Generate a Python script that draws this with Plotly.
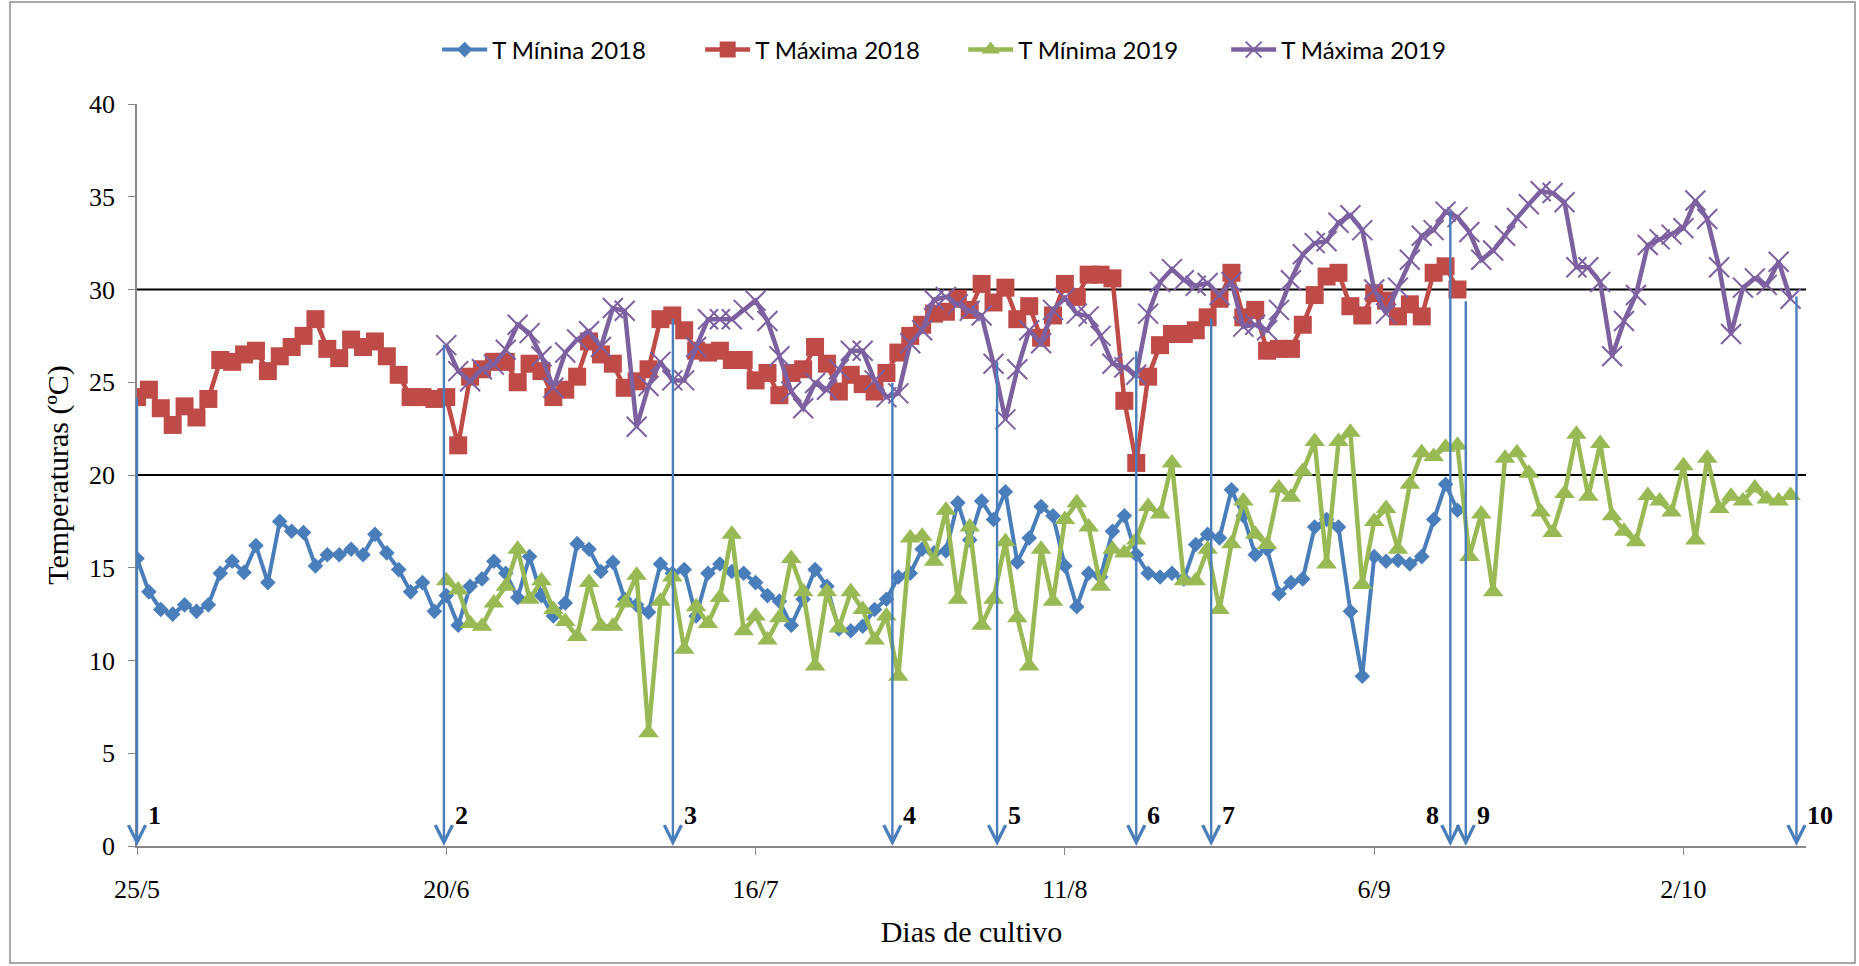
import plotly.graph_objects as go

# ---------------- data ----------------
tick_dias = [0, 26, 52, 78, 104, 130]
tick_labels = ["25/5", "20/6", "16/7", "11/8", "6/9", "2/10"]

dias_2018 = list(range(0, 112))
dias_2019 = list(range(26, 140))

tmin_2018 = [15.5, 13.7, 12.75, 12.5, 13.0, 12.65, 13.0, 14.7, 15.35, 14.75,
             16.2, 14.2, 17.5, 16.97, 16.9, 15.1, 15.7, 15.7, 16.0, 15.7,
             16.8, 15.8, 14.9, 13.7, 14.2, 12.65, 13.5, 11.9, 14.0, 14.4,
             15.35, 14.7, 13.4, 15.6, 13.5, 12.4, 13.1, 16.3, 16.0, 14.8,
             15.3, 13.3, 13.0, 12.6, 15.2, 14.7, 14.9, 12.4, 14.7, 15.2,
             14.8, 14.7, 14.2, 13.5, 13.2, 11.9, 13.3, 14.9, 14.0, 11.7,
             11.6, 11.85, 12.75, 13.3, 14.5, 14.7, 16.0, 15.8, 15.9, 18.5,
             16.5, 18.6, 17.6, 19.1, 15.3, 16.6, 18.3, 17.8, 15.1, 12.9,
             14.7, 14.5, 16.97, 17.8, 15.7, 14.7, 14.5, 14.7, 14.4, 16.25,
             16.8, 16.6, 19.2, 17.8, 15.7, 16.0, 13.6, 14.2, 14.4, 17.2,
             17.6, 17.2, 12.65, 9.15, 15.6, 15.35, 15.4, 15.2, 15.6, 17.6,
             19.5, 18.1]

tmax_2018 = [24.2, 24.6, 23.6, 22.7, 23.7, 23.1, 24.1, 26.2, 26.1, 26.5,
             26.7, 25.6, 26.4, 26.9, 27.5, 28.4, 26.8, 26.3, 27.3, 26.9,
             27.2, 26.4, 25.4, 24.2, 24.2, 24.1, 24.2, 21.6, 25.3, 25.7,
             26.1, 26.1, 25.0, 26.0, 25.6, 24.2, 24.6, 25.3, 27.2, 26.5,
             26.0, 24.7, 25.05, 25.7, 28.4, 28.6, 27.8, 26.7, 26.6, 26.7,
             26.2, 26.2, 25.1, 25.5, 24.3, 25.5, 25.7, 26.9, 26.0, 24.5,
             25.4, 24.9, 24.5, 25.5, 26.6, 27.5, 28.1, 28.7, 28.8, 29.5,
             28.9, 30.3, 29.3, 30.1, 28.4, 29.1, 27.4, 28.6, 30.3, 29.6,
             30.8, 30.8, 30.6, 24.0, 20.65, 25.3, 27.0, 27.6, 27.6, 27.8,
             28.5, 29.5, 30.9, 28.5, 28.9, 26.7, 26.8, 26.8, 28.1, 29.7,
             30.7, 30.9, 29.1, 28.6, 29.8, 29.4, 28.55, 29.2, 28.55, 30.9,
             31.25, 30.0]

tmin_2019 = [14.3, 13.8, 12.0, 11.85, 13.1, 14.0, 16.0, 13.3, 14.3, 12.75,
             12.1, 11.3, 14.2, 11.85, 11.85, 13.1, 14.6, 6.1, 13.2, 14.5,
             10.6, 12.9, 12.0, 13.4, 16.8, 11.6, 12.4, 11.1, 12.3, 15.5,
             13.7, 9.7, 13.7, 11.75, 13.7, 12.75, 11.1, 12.4, 9.15, 16.6,
             16.7, 15.35, 18.1, 13.3, 17.2, 11.9, 13.3, 16.4, 12.3, 9.7,
             16.0, 13.2, 17.6, 18.5, 17.2, 14.0, 16.0, 15.8, 16.5, 18.3,
             17.9, 20.65, 14.3, 14.3, 16.0, 12.75, 16.3, 18.6, 16.8, 16.25,
             19.3, 18.8, 20.2, 21.8, 15.2, 21.8, 22.3, 14.1, 17.5, 18.2,
             16.0, 19.5, 21.2, 21.0, 21.5, 21.6, 15.6, 17.9, 13.7, 20.9,
             21.2, 20.1, 18.0, 16.9, 19.0, 22.2, 18.85, 21.7, 17.8, 16.97,
             16.4, 18.9, 18.6, 18.0, 20.5, 16.5, 20.9, 18.2, 18.85, 18.6,
             19.3, 18.7, 18.6, 18.9]

tmax_2019 = [27.0, 25.6, 25.05, 25.7, 25.95, 26.75, 28.1, 27.65, 26.4, 24.7,
             26.6, 27.3, 27.75, 26.9, 29.0, 28.85, 22.6, 24.8, 26.1, 25.1,
             25.1, 26.9, 28.4, 28.4, 28.4, 28.9, 29.4, 28.3, 26.4, 24.5,
             23.6, 24.96, 24.6, 25.7, 26.7, 26.7, 25.1, 24.2, 24.4, 27.1,
             27.8, 29.45, 29.6, 29.2, 28.85, 28.6, 26.0, 23.0, 25.7, 27.8,
             27.1, 28.9, 29.55, 28.7, 28.55, 27.5, 26.0, 25.8, 25.4, 28.7,
             30.4, 31.1, 30.5, 30.2, 30.35, 29.7, 30.4, 28.0, 28.1, 27.8,
             28.9, 30.5, 31.9, 32.5, 32.6, 33.6, 34.0, 33.2, 30.0, 28.7,
             30.1, 31.6, 32.9, 33.2, 34.2, 33.9, 33.1, 31.6, 32.1, 32.9,
             33.85, 34.6, 35.3, 35.2, 34.7, 31.2, 31.2, 30.4, 26.4, 28.3,
             29.7, 32.4, 32.7, 32.96, 33.3, 34.8, 33.8, 31.2, 27.6, 30.1,
             30.6, 30.25, 31.5, 29.5]

# growth-stage arrows
arrow_dias = [0, 25.8, 45.05, 63.5, 72.3, 84.0, 90.3, 110.4, 111.7, 139.5]
arrow_tops = [24.25, 27.1, 28.5, 25.05, 26.2, 26.75, 28.5, 34.3, 29.45, 29.7]
arrow_labels = ["1", "2", "3", "4", "5", "6", "7", "8", "9", "10"]
label_left = [False, False, False, False, False, False, False, True, False, False]

ref_lines = [20, 30]

# ---------------- style ----------------
BLUE = "#4A7EBB"
RED = "#BE4B48"
GREEN = "#98B954"
PURPLE = "#7D60A0"
SERIF = "Liberation Serif, Times New Roman, serif"
SANS = "Lato, Carlito, Calibri, sans-serif"

W, H = 1859, 966
ML, MR, MT, MB = 137, 53, 104, 120

fig = go.Figure()

fig.add_trace(go.Scatter(
    x=dias_2018, y=tmin_2018, mode="lines+markers", name="T Mínina 2018",
    line=dict(color=BLUE, width=4),
    marker=dict(symbol="diamond", size=12, color=BLUE)))
fig.add_trace(go.Scatter(
    x=dias_2018, y=tmax_2018, mode="lines+markers", name="T Máxima 2018",
    line=dict(color=RED, width=4.5),
    marker=dict(symbol="square", size=18, color=RED)))
fig.add_trace(go.Scatter(
    x=dias_2019, y=tmin_2019, mode="lines+markers", name="T Mínima 2019",
    line=dict(color=GREEN, width=4.5),
    marker=dict(symbol="triangle-up", size=18, color=GREEN)))
fig.add_trace(go.Scatter(
    x=dias_2019, y=tmax_2019, mode="lines+markers", name="T Máxima 2019",
    line=dict(color=PURPLE, width=4.5),
    marker=dict(symbol="x-thin", size=20, color=PURPLE,
                line=dict(color=PURPLE, width=2))))

shapes = []
for v in ref_lines:
    shapes.append(dict(type="line", xref="paper", yref="y", x0=0, x1=1,
                       y0=v, y1=v, line=dict(color="black", width=2),
                       layer="below"))

# outer chart border
pw = W - ML - MR
ph = H - MT - MB
shapes.append(dict(type="rect", xref="paper", yref="paper",
                   x0=(10 - ML) / pw, x1=(W - 4 - ML) / pw,
                   y0=-(H - 3 - (H - MB)) / ph, y1=1 + (MT - 2) / ph,
                   line=dict(color="#8C8C8C", width=1.5)))

annotations = []
for d, top, lab, left in zip(arrow_dias, arrow_tops, arrow_labels, label_left):
    annotations.append(dict(
        x=d, y=0, ax=d, ay=top, xref="x", yref="y", axref="x", ayref="y",
        text="", showarrow=True, arrowhead=5, arrowsize=1.4, arrowwidth=2.4,
        arrowcolor=BLUE, standoff=0, startstandoff=0))
    annotations.append(dict(
        x=d, y=1.65, xref="x", yref="y", text="<b>%s</b>" % lab,
        showarrow=False, xanchor="right" if left else "left",
        xshift=-9 if left else 9,
        font=dict(family=SERIF, size=26, color="black")))

fig.update_layout(
    width=W, height=H,
    margin=dict(l=ML, r=MR, t=MT, b=MB),
    paper_bgcolor="white", plot_bgcolor="white",
    showlegend=True,
    legend=dict(orientation="h", x=0.495, xanchor="center",
                y=1 + 54 / ph, yanchor="middle",
                font=dict(family=SANS, size=24, color="black"),
                itemwidth=45, entrywidth=203, entrywidthmode="pixels",
                bgcolor="rgba(0,0,0,0)"),
    xaxis=dict(range=[0, 140.3], tickmode="array", tickvals=tick_dias,
               ticktext=tick_labels, showgrid=False, zeroline=False,
               showline=True, linecolor="#868686", linewidth=1.5,
               ticks="outside", ticklen=7, tickcolor="#868686",
               ticklabelstandoff=12,
               tickfont=dict(family=SERIF, size=26, color="black"),
               title=dict(text="Dias de cultivo", standoff=18,
                          font=dict(family=SERIF, size=30, color="black"))),
    yaxis=dict(range=[0, 40], tickmode="array",
               tickvals=[0, 5, 10, 15, 20, 25, 30, 35, 40],
               showgrid=False, zeroline=False,
               showline=True, linecolor="#868686", linewidth=1.5,
               ticks="outside", ticklen=7, tickcolor="#868686",
               ticklabelstandoff=8,
               tickfont=dict(family=SERIF, size=26, color="black"),
               title=dict(text="Temperaturas (ºC)", standoff=12,
                          font=dict(family=SERIF, size=30, color="black"))),
    shapes=shapes, annotations=annotations,
)

fig.write_html("out.html")
